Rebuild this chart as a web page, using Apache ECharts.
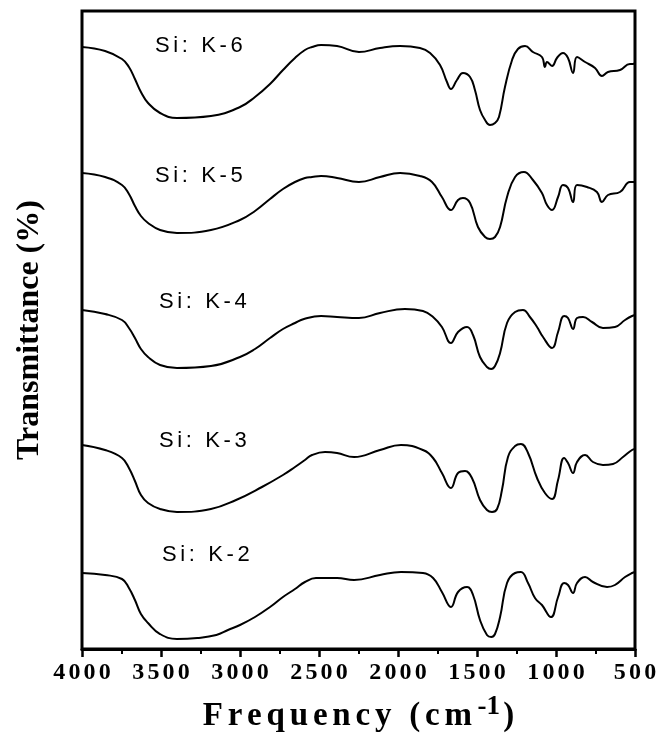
<!DOCTYPE html>
<html>
<head>
<meta charset="utf-8">
<script src="https://cdn.jsdelivr.net/npm/echarts@6/dist/echarts.min.js"></script>
<style>
html,body{margin:0;padding:0;background:#fff;}
#chart{width:660px;height:738px;}
</style>
</head>
<body>
<div id="chart"></div>
<script>
// Wavenumber (cm-1) and transmittance (arbitrary offset units)
const seriesNames = ['Si: K-6', 'Si: K-5', 'Si: K-4', 'Si: K-3', 'Si: K-2'];
const xTicks = [4000, 3500, 3000, 2500, 2000, 1500, 1000, 500];

const k6 = [[4000,602],[3854,598],[3747,590],[3703,582],[3665,570],[3627,557],[3582,546],[3506,536],[3399,531],[3184,533],[3000,542],[2905,552],[2810,565],[2728,579],[2652,591],[2589,599],[2544,602],[2487,604],[2386,603],[2247,597],[2114,601],[1987,603],[1861,601],[1797,596],[1734,584],[1690,567],[1665,560],[1627,569],[1589,576],[1544,572],[1513,559],[1481,539],[1449,529],[1418,524],[1386,526],[1361,532],[1323,562],[1278,589],[1241,600],[1196,603],[1146,597],[1089,592],[1070,582],[1057,587],[1025,583],[994,591],[956,596],[924,591],[892,576],[867,592],[816,587],[753,581],[709,573],[671,577],[595,579],[532,585],[513,585],[500,586]];
const k5 = [[4000,476],[3854,472],[3747,464],[3703,455],[3665,443],[3627,433],[3582,426],[3506,419],[3399,416],[3184,419],[3000,429],[2905,438],[2810,450],[2728,460],[2652,467],[2589,471],[2544,472],[2487,473],[2386,471],[2247,467],[2114,472],[1987,476],[1861,473],[1785,467],[1722,452],[1665,439],[1620,449],[1589,451],[1544,446],[1494,422],[1449,412],[1418,410],[1386,412],[1354,422],[1310,452],[1259,472],[1203,477],[1146,469],[1089,456],[1057,444],[1025,439],[987,452],[956,464],[924,461],[892,447],[867,464],[804,462],[741,457],[709,447],[671,454],[595,457],[532,467],[500,467]];
const k4 = [[4000,339],[3854,335],[3747,329],[3703,321],[3665,311],[3627,300],[3582,292],[3506,284],[3399,281],[3184,283],[3000,292],[2905,300],[2810,311],[2728,320],[2652,326],[2595,330],[2487,333],[2386,332],[2247,331],[2114,336],[1956,340],[1842,338],[1778,332],[1722,322],[1665,306],[1620,317],[1563,322],[1525,314],[1481,292],[1437,282],[1410,280],[1386,283],[1354,296],[1310,326],[1259,337],[1209,339],[1165,332],[1120,322],[1082,312],[1025,301],[987,317],[949,333],[924,331],[892,320],[867,331],[829,332],[772,327],[703,321],[627,322],[563,329],[519,333],[500,334]];
const k3 = [[4000,204],[3854,199],[3747,191],[3703,181],[3665,168],[3627,154],[3582,146],[3506,140],[3399,137],[3184,140],[3025,149],[2861,162],[2728,174],[2652,182],[2589,189],[2544,194],[2462,197],[2386,196],[2278,192],[2114,199],[1981,204],[1842,199],[1778,191],[1722,176],[1665,161],[1620,176],[1576,178],[1532,171],[1481,149],[1437,139],[1405,137],[1373,140],[1342,159],[1304,192],[1259,203],[1222,205],[1177,196],[1120,171],[1070,156],[1025,150],[987,169],[949,191],[924,186],[892,176],[867,187],[816,194],[766,187],[703,184],[639,185],[576,192],[519,199],[500,200]];
const k2 = [[4000,76],[3854,74],[3747,70],[3703,61],[3665,49],[3627,35],[3582,26],[3506,15],[3399,10],[3270,11],[3150,14],[3076,19],[3000,24],[2905,32],[2810,42],[2728,52],[2652,60],[2589,67],[2519,71],[2386,71],[2278,69],[2114,74],[1981,77],[1842,76],[1778,71],[1722,57],[1665,42],[1620,57],[1563,62],[1525,54],[1481,29],[1437,14],[1410,12],[1386,15],[1354,32],[1310,66],[1259,76],[1222,77],[1177,66],[1133,51],[1089,44],[1032,32],[987,52],[949,66],[924,64],[892,56],[867,66],[816,72],[766,67],[677,62],[627,64],[563,72],[519,76],[500,77]];

const seriesData = [k6, k5, k4, k3, k2];

const chart = echarts.init(document.getElementById('chart'), null, {renderer: 'canvas'});

function spaced(str, key) {
  return str.split('').map(c => '{' + key + '|' + c + '}').join('');
}

const serif = '"Liberation Serif", "Times New Roman", serif';
const sans = '"Liberation Sans", Arial, sans-serif';

const labelPos = [
  {x: 155, y: 47},
  {x: 155, y: 177},
  {x: 159, y: 303},
  {x: 159, y: 442},
  {x: 162, y: 556}
];

const option = {
  backgroundColor: '#fff',
  animation: false,
  grid: {
    left: 82, right: 25, top: 11, bottom: 89,
    show: true, borderColor: '#000', borderWidth: 3,
    containLabel: false, outerBoundsMode: 'none'
  },
  xAxis: {
    type: 'value',
    inverse: true,
    min: 500, max: 4000, interval: 500,
    name: spaced('Frequency (cm', 'n') + '{s|-1}' + '{n|)}',
    nameLocation: 'middle',
    nameGap: 49,
    nameTextStyle: {
      rich: {
        n: {fontFamily: serif, fontWeight: 'bold', fontSize: 33, color: '#000', padding: [0, 2.4, 0, 2.4], lineHeight: 36},
        s: {fontFamily: serif, fontWeight: 'bold', fontSize: 27, color: '#000', padding: [0, 1, 18, 3], lineHeight: 36}
      }
    },
    axisLine: {show: true, lineStyle: {color: '#000', width: 3}},
    axisTick: {show: true, inside: false, length: 8, lineStyle: {color: '#000', width: 2.5}},
    minorTick: {show: true, splitNumber: 2, length: 5, lineStyle: {color: '#000', width: 2}},
    axisLabel: {
      margin: 12,
      formatter: v => spaced(String(v), 'd'),
      rich: {
        d: {fontFamily: serif, fontWeight: 'bold', fontSize: 24, color: '#000', padding: [0, 1.6, 0, 1.6]}
      }
    },
    splitLine: {show: false},
    minorSplitLine: {show: false}
  },
  yAxis: {
    type: 'value',
    min: 0, max: 638,
    name: 'Transmittance (%)',
    nameLocation: 'middle',
    nameRotate: 90,
    nameGap: 36,
    nameTextStyle: {fontFamily: serif, fontWeight: 'bold', fontSize: 32, color: '#000'},
    axisLine: {show: false},
    axisTick: {show: false},
    axisLabel: {show: false},
    splitLine: {show: false}
  },
  series: seriesData.map((d, i) => ({
    type: 'line',
    name: seriesNames[i],
    data: d,
    showSymbol: false,
    symbol: 'none',
    smooth: 0.45,
    lineStyle: {color: '#000', width: 2},
    z: 3
  })),
  graphic: seriesNames.map((n, i) => ({
    type: 'text',
    left: labelPos[i].x,
    top: labelPos[i].y - 12,
    style: {
      text: spaced(n, 'c'),
      rich: {
        c: {fontSize: 22, fontFamily: sans, color: '#000', padding: [0, 1.8, 0, 1.8]}
      }
    }
  }))
};

chart.setOption(option);
</script>
</body>
</html>
